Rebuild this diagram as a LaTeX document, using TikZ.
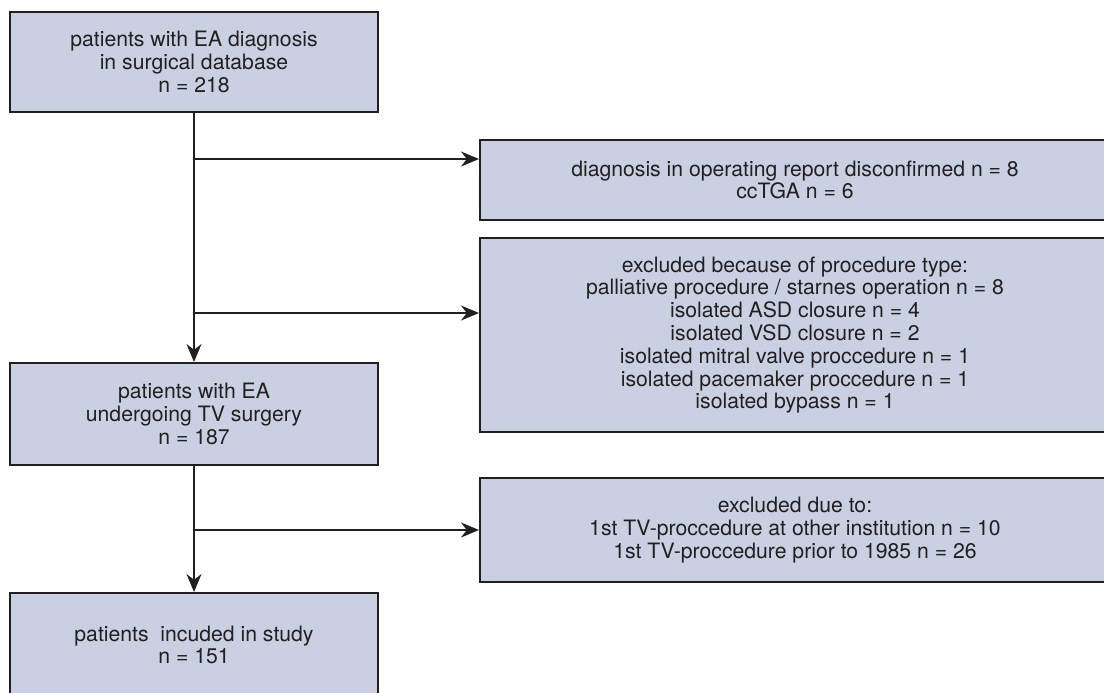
\documentclass[tikz,border=0pt]{standalone}
\usepackage{fontspec}
\setmainfont{TeX Gyre Heros}
\usetikzlibrary{arrows.meta}
\definecolor{boxfill}{RGB}{200,208,226}
\definecolor{boxline}{RGB}{35,31,32}

\begin{document}
\begin{tikzpicture}[x=0.5pt,y=-0.5pt,
  box/.style={draw=boxline,fill=boxfill,line width=1pt,align=center,inner sep=0pt,
    text=boxline,font=\fontsize{10.6}{11.4}\selectfont},
  lbox/.style={box,minimum width=184pt},
  rbox/.style={box,minimum width=315pt}]
  \useasboundingbox (0,0) rectangle (1104,692);
  % left column
  \node[lbox,minimum height=50pt] (db) at (194,62)
    {patients with EA diagnosis\\in surgical database\\n = 218};
  \node[lbox,minimum height=51pt] (tvs) at (194,414)
    {patients with EA\\undergoing TV surgery\\n = 187};
  \node[lbox,minimum height=52pt] (study) at (194,645)
    {patients\ \ incuded in study\\n = 151};
  % right column
  \node[rbox,minimum height=40pt] (disc) at (795,180)
    {diagnosis in operating report disconfirmed n = 8\\ccTGA n = 6};
  \node[rbox,minimum height=97pt] (proc) at (795,335)
    {excluded because of procedure type:\\
     palliative procedure / starnes operation n = 8\\
     isolated ASD closure n = 4\\
     isolated VSD closure n = 2\\
     isolated mitral valve proccedure n = 1\\
     isolated pacemaker proccedure n = 1\\
     isolated bypass n = 1};
  \node[rbox,minimum height=52pt] (inst) at (795,530)
    {excluded due to:\\
     1st TV-proccedure at other institution n = 10\\
     1st TV-proccedure prior to 1985 n = 26};
  \coordinate (b1) at (194,159);
  \coordinate (b2) at (194,313);
  \coordinate (b3) at (194,530);
  \path[color=boxline,line width=1pt,-{Stealth[length=9pt,width=7.5pt]}]
    (db) edge (tvs)
    (b1) edge (b1 -| disc.west)
    (b2) edge (b2 -| proc.west)
    (tvs) edge (study)
    (b3) edge (inst);
\end{tikzpicture}
\end{document}
